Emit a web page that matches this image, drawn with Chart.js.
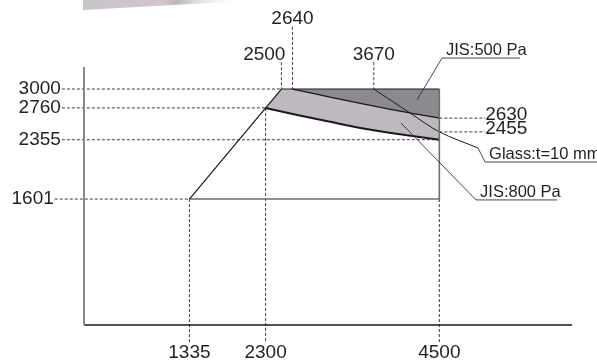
<!DOCTYPE html>
<html>
<head>
<meta charset="utf-8">
<script src="https://cdn.jsdelivr.net/npm/chart.js@4.4.1/dist/chart.umd.min.js"></script>
<style>
  html, body { margin: 0; padding: 0; background: #fff; }
  #wrap { width: 597px; height: 364px; }
</style>
</head>
<body>
<div id="wrap"><canvas id="sizeChart" width="597" height="364"></canvas></div>
<script>
// axis ranges
const xMax = 6180;
const yMax = 3280;

// tick values and where their dashed guide meets the figure
const bottomTicks = [1335, 2300, 4500];
const bottomTickEnds = [1601, 2760, 1601];
const topTicks = [2500, 2640, 3670];
const leftTicks = [3000, 2760, 2355, 1601];
const leftTickEnds = [2500, 2300, 4500, 1335];
const rightTicks = [2630, 2455];

// outline of the usable area
const edgeDarkX = [1335, 2500, 4500];
const edgeDarkY = [1601, 3000, 3000];
const edgeGrayX = [4500, 4500, 1335];
const edgeGrayY = [3000, 1601, 1601];

// JIS 500 Pa limit curve
const curve500X = [2640, 3100, 3500, 4000, 4500];
const curve500Y = [3000, 2900, 2818, 2718, 2630];
// JIS 800 Pa limit curve
const curve800X = [2300, 2700, 3100, 3500, 4000, 4500];
const curve800Y = [2760, 2670, 2587, 2505, 2425, 2355];
// glass t=10 mm limit
const glassX = [3670, 4129, 4500, 4990];
const glassY = [3000, 2695, 2455, 2250];

// notes with their leader lines (last two points = underline)
const notes = ['JIS:500 Pa', 'Glass:t=10 mm', 'JIS:800 Pa'];
const leaderX = [[4217, 4534, 5522], [4990, 5079, 6540], [4015, 4965, 5990]];
const leaderY = [[2860, 3394, 3394], [2250, 2072, 2072], [2568, 1590, 1590]];

// how far guides run out towards their labels (data units)
const guideLeft = -280;
const guideLeftShort = -370;
const guideTop = 3340;
const guideTopLong = 3790;
const guideBottom = -230;
const guideRight = 5080;

const pts = (xs, ys) => xs.map((x, i) => ({ x, y: ys[i] }));

// dashed guides, broken with null points
const guidePts = [];
const seg = (x1, y1, x2, y2) => guidePts.push({ x: x1, y: y1 }, { x: x2, y: y2 }, { x: x2, y: null });
leftTicks.forEach((v, i) => seg(v === 1601 ? guideLeftShort : guideLeft, v, leftTickEnds[i], v));
bottomTicks.forEach((v, i) => seg(v, bottomTickEnds[i], v, guideBottom));
topTicks.forEach(v => seg(v, v === 2640 ? guideTopLong : guideTop, v, 3000));
rightTicks.forEach(v => seg(4500, v, guideRight, v));

// filled zones
const zone800 = [
    ...pts([2300, 2500], [2760, 3000]),
    ...pts(curve500X, curve500Y),
    ...pts(curve800X, curve800Y).reverse()
];
const zone500 = [...pts(curve500X, curve500Y), { x: 4500, y: 3000 }, { x: 2640, y: 3000 }];

const line = (data, color, width, extra = {}) => Object.assign({
    data, borderColor: color, borderWidth: width, pointRadius: 0, fill: false,
    tension: 0, clip: false, order: 1
}, extra);

const datasets = [
    line(pts([0, 0], [yMax, 0]), '#8a8a8a', 2),
    line(pts([0, xMax], [0, 0]), '#1a1a1a', 1.3),
    line(pts(edgeDarkX, edgeDarkY), '#1a1a1a', 1.2),
    line(pts(edgeGrayX, edgeGrayY), '#6e6e6e', 1.6),
    line(pts(curve500X, curve500Y), '#1a1a1a', 1.3, { tension: 0.3 }),
    line(pts(curve800X, curve800Y), '#1a1a1a', 2, { tension: 0.3 }),
    line(pts(glassX, glassY), '#1a1a1a', 1, { tension: 0.3 }),
    ...leaderX.map((xs, i) => line(pts(xs, leaderY[i]), '#333', 0.9, { order: 0 })),
    line(guidePts, '#3a3a3a', 1, { borderDash: [3, 2], order: 2 }),
    line(zone800, 'rgba(0,0,0,0)', 0, { fill: 'shape', backgroundColor: '#bdb9be', order: 4 }),
    line(zone500, 'rgba(0,0,0,0)', 0, { fill: 'shape', backgroundColor: '#8b8a8f', order: 3 })
];

// faded strip left at the top edge of the scan
const scanEdge = {
    id: 'scanEdge',
    beforeDraw(chart) {
        const ctx = chart.ctx;
        const g = ctx.createLinearGradient(83, 0, 245, 0);
        g.addColorStop(0, 'rgba(200,196,200,1)');
        g.addColorStop(0.5, 'rgba(205,190,200,0.9)');
        g.addColorStop(0.58, 'rgba(170,165,170,0.8)');
        g.addColorStop(1, 'rgba(255,255,255,0)');
        ctx.save();
        ctx.fillStyle = g;
        ctx.beginPath();
        ctx.moveTo(83, 0);
        ctx.lineTo(245, 0);
        ctx.lineTo(245, 1);
        ctx.lineTo(83, 10);
        ctx.closePath();
        ctx.fill();
        ctx.restore();
    }
};

const labels = {
    id: 'labels',
    afterDraw(chart) {
        const { ctx, scales: { x, y } } = chart;
        const px = v => x.getPixelForValue(v);
        const py = v => y.getPixelForValue(v);
        ctx.save();
        ctx.fillStyle = '#231f20';
        ctx.font = '19px "Liberation Sans", Arial, sans-serif';
        ctx.textBaseline = 'middle';

        ctx.textAlign = 'right';
        leftTicks.forEach(v => {
            ctx.fillText(String(v), px(v === 1601 ? guideLeftShort : guideLeft) - 1, py(v));
        });

        ctx.textAlign = 'center';
        bottomTicks.forEach(v => ctx.fillText(String(v), px(v), y.bottom + 28));

        topTicks.forEach(v => {
            const top = py(v === 2640 ? guideTopLong : guideTop) - 8;
            if (v === 2500) {
                ctx.textAlign = 'right';
                ctx.fillText(String(v), px(v) + 4, top);
                ctx.textAlign = 'center';
            } else {
                ctx.fillText(String(v), px(v), top);
            }
        });

        ctx.textAlign = 'left';
        rightTicks.forEach(v => ctx.fillText(String(v), px(guideRight), py(v) - 3));

        ctx.font = '16.5px "Liberation Sans", Arial, sans-serif';
        ctx.textBaseline = 'alphabetic';
        notes.forEach((t, i) => {
            ctx.fillText(t, px(leaderX[i][1]) + 4, py(leaderY[i][1]) - 3);
        });
        ctx.restore();
    }
};

new Chart(document.getElementById('sizeChart'), {
    type: 'line',
    data: { datasets },
    options: {
        responsive: false,
        animation: false,
        events: [],
        layout: { padding: { left: 84, right: 25, top: 67, bottom: 39 } },
        scales: {
            x: { type: 'linear', min: 0, max: xMax, display: false },
            y: { type: 'linear', min: 0, max: yMax, display: false }
        },
        plugins: { legend: { display: false }, tooltip: { enabled: false } }
    },
    plugins: [scanEdge, labels]
});
</script>
</body>
</html>
